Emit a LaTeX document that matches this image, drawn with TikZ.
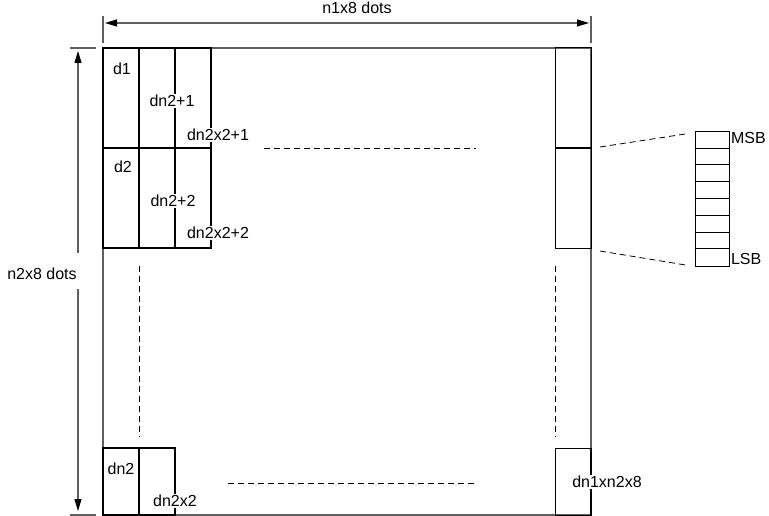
\documentclass[tikz,border=0pt]{standalone}
\usepackage{fontspec}
\setmainfont{Liberation Sans}
\usetikzlibrary{arrows.meta}
\definecolor{outergray}{RGB}{95,95,95}
\tikzset{
  outerline/.style={draw=outergray,line width=1.2pt},
  innerline/.style={draw=black,line width=1.4pt},
  thinline/.style={draw=black,line width=1pt},
  dimline/.style={draw=outergray,line width=1.1pt},
  tipend/.style={-{Triangle[length=12pt,width=7pt,black]}},
  bothtips/.style={{Triangle[length=12pt,width=7pt,black]}-{Triangle[length=12pt,width=7pt,black]}},
  dashline/.style={draw=black,line width=0.9pt,dash pattern=on 6pt off 4pt},
  lbl/.style={font=\fontsize{16}{18}\selectfont,inner sep=0.8pt},
  cutlbl/.style={lbl,fill=white},
}
\begin{document}
\begin{tikzpicture}[x=1pt,y=-1pt]
\useasboundingbox (0,0) rectangle (769,516);
% outer frame
\draw[outerline] (103,48) rectangle (591,515);
% top-left grid
\draw[innerline] (103,48) rectangle (211,248);
\draw[innerline] (139,48) -- (139,248);
\draw[innerline] (175,48) -- (175,248);
\draw[innerline] (103,148) -- (211,148);
% top-right column
\draw[thinline] (555,48) rectangle (591,248);
\draw[innerline] (555,148) -- (591,148);
% bottom-left
\draw[innerline] (103,448) rectangle (175,515);
\draw[innerline] (139,448) -- (139,515);
% bottom-right
\draw[thinline] (555,448) rectangle (591,515);
\draw[innerline] (591,448) -- (591,515);
% dashed continuation lines
\coordinate (hd1a) at (264,148); \coordinate (hd1b) at (476,148);
\draw[dashline] (hd1a) -- (hd1b);
\coordinate (hd2a) at (228,483); \coordinate (hd2b) at (476,483);
\draw[dashline] (hd2a) -- (hd2b);
\coordinate (vd1a) at (139,266); \coordinate (vd1b) at (139,437);
\draw[dashline] (vd1a) -- (vd1b);
\coordinate (vd2a) at (555,266); \coordinate (vd2b) at (555,437);
\draw[dashline] (vd2a) -- (vd2b);
% labels in cells
\node[lbl] (d1) at (122,69) {d1};
\node[lbl] (d2) at (123,167) {d2};
\node[cutlbl] (dn21) at (172,101) {dn2+1};
\node[cutlbl] (dn22) at (173,201) {dn2+2};
\node[cutlbl] (dn2x21) at (218,135) {dn2x2+1};
\node[cutlbl] (dn2x22) at (218,233) {dn2x2+2};
\node[lbl] (dn2) at (121,469) {dn2};
\node[cutlbl] (dn2x2) at (175,501) {dn2x2};
\node[cutlbl] (dlast) at (607,482) {dn1xn2x8};
% top dimension
\coordinate (tl1) at (103,16); \coordinate (tl2) at (103,43);
\coordinate (tr1) at (591,16); \coordinate (tr2) at (591,43);
\draw[dimline] (tl1) -- (tl2);
\draw[dimline] (tr1) -- (tr2);
\coordinate (ta) at (105,23); \coordinate (tb) at (589,23);
\draw[dimline,bothtips] (ta) -- (tb);
\node[lbl] (wlabel) at (357,8) {n1x8 dots};
% left dimension
\coordinate (lt1) at (70,48); \coordinate (lt2) at (96,48);
\coordinate (lb1) at (70,515); \coordinate (lb2) at (96,515);
\draw[dimline] (lt1) -- (lt2);
\draw[dimline] (lb1) -- (lb2);
\coordinate (la) at (78,51); \coordinate (lg1) at (78,253);
\coordinate (lg2) at (78,289); \coordinate (lb) at (78,511);
\draw[dimline,tipend] (lg1) -- (la);
\draw[dimline,tipend] (lg2) -- (lb);
\node[lbl] (hlabel) at (42,274) {n2x8 dots};
% bit stack
\node[thinline,minimum width=34pt,minimum height=134pt,inner sep=0pt] (stack) at (712,199) {};
\foreach \i in {1,...,7}{
  \draw[thinline] ([yshift=-\i*16.75pt]stack.north west) -- ([yshift=-\i*16.75pt]stack.north east);
}
\node[lbl,anchor=west] (msb) at (730,138) {MSB};
\node[lbl,anchor=west] (lsb) at (730,259) {LSB};
\coordinate (z1) at (600,147); \coordinate (z2) at (600,251);
\draw[dashline,line width=0.8pt] (z1) -- ([xshift=-6pt,yshift=-2pt]stack.north west);
\draw[dashline,line width=0.8pt] (z2) -- ([xshift=-6pt,yshift=1pt]stack.south west);
\end{tikzpicture}
\end{document}
